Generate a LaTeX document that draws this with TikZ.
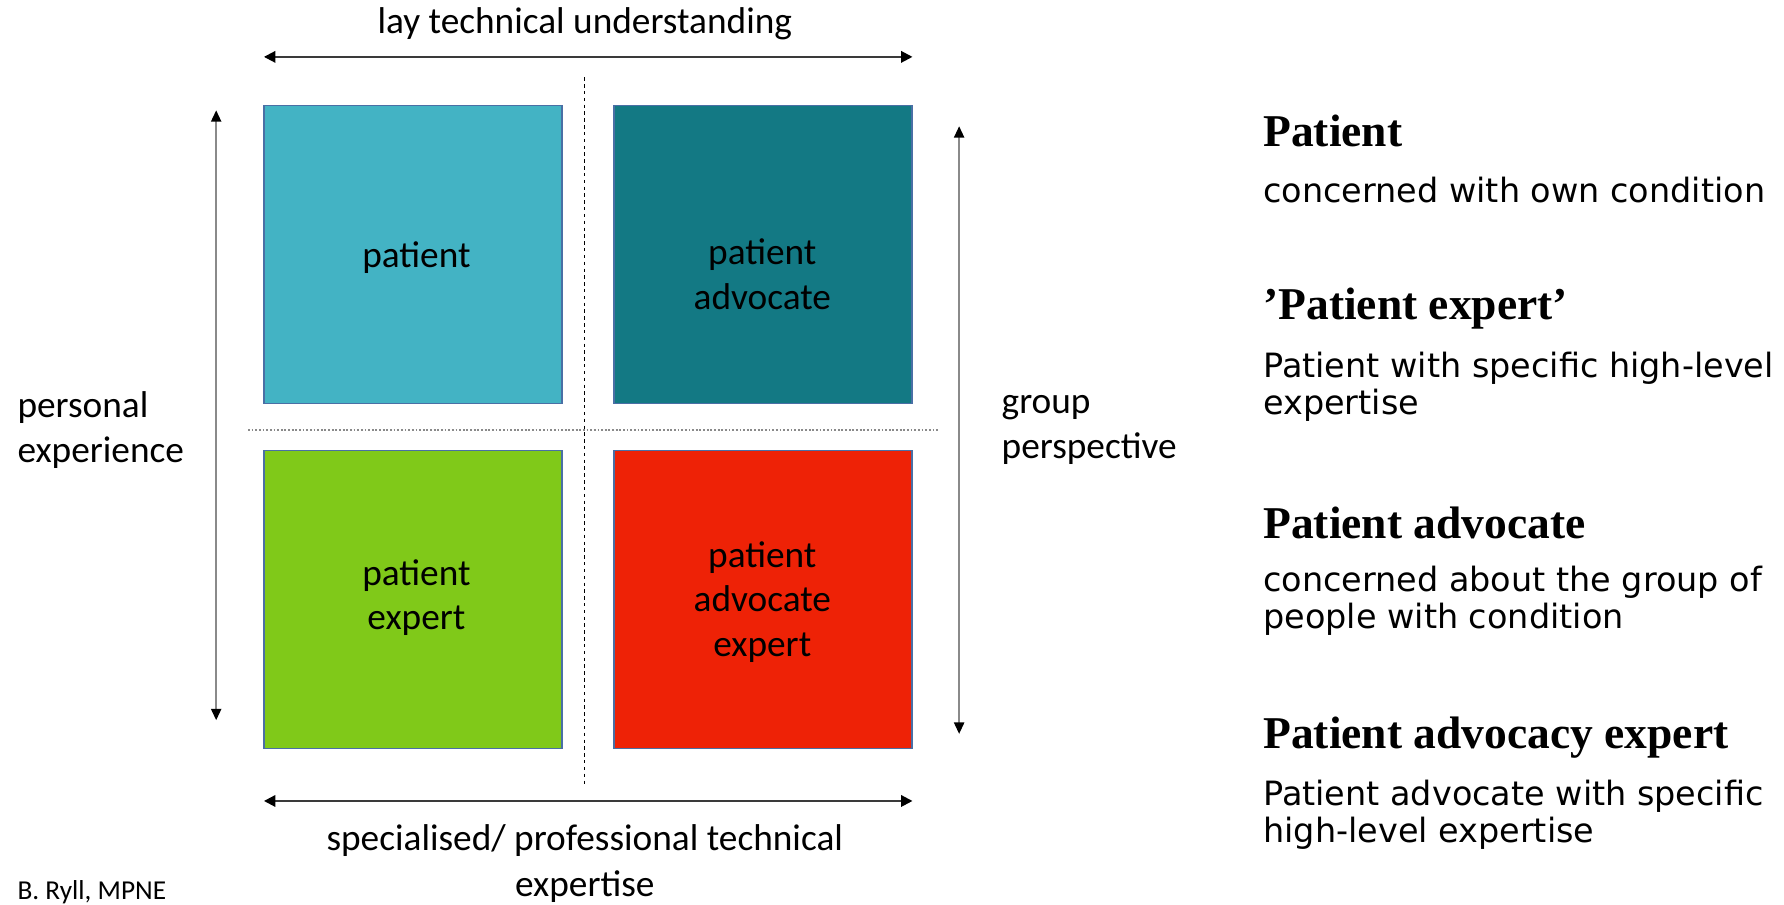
\documentclass[tikz,border=0pt]{standalone}
\usepackage{fontspec}
\setmainfont{Carlito}
\newfontfamily\descfont{DejaVu Sans}
\newfontfamily\headfont{Liberation Serif}
\usepackage{tikz}
\usetikzlibrary{positioning,arrows.meta}
\definecolor{patcol}{HTML}{43B3C4}
\definecolor{advcol}{HTML}{137984}
\definecolor{expcol}{HTML}{80C919}
\definecolor{aexcol}{HTML}{EE2206}
\definecolor{quadline}{HTML}{4A6FA5}
\definecolor{axisgray}{HTML}{8A8A8A}
\definecolor{axisdark}{HTML}{3A3A3A}

\begin{document}
\begin{tikzpicture}[x=0.5pt,y=-0.5pt,font=\fontsize{16.4}{19.5}\selectfont]
            \tikzstyle{quad}=[draw=quadline,line width=0.6pt,minimum width=131pt,minimum height=131pt,inner sep=0pt]
            \tikzstyle{quad text}=[align=center,inner sep=0pt,text=black]
            \tikzstyle{side text}=[align=left,anchor=west,inner sep=0pt,font=\fontsize{16.4}{20}\selectfont]
            \tikzstyle{head}=[anchor=west,inner sep=0pt,font=\fontsize{20}{24}\headfont\bfseries]
            \tikzstyle{desc}=[anchor=west,align=left,inner sep=0pt,font=\fontsize{14.7}{16.5}\descfont]
            \tikzstyle{wide axis}=[draw=axisdark,line width=0.9pt,{Triangle[length=5pt,width=5pt,color=black]}-{Triangle[length=5pt,width=5pt,color=black]}]
            \tikzstyle{tall axis}=[draw=axisgray,line width=0.7pt,{Triangle[length=5pt,width=4.5pt,color=black]}-{Triangle[length=5pt,width=4.5pt,color=black]}]
            \useasboundingbox (0,0) rectangle (1568,795);
            % four quadrants
            \node(p)[quad,fill=patcol] at (363,223.5) {};
            \node(pa)[quad,fill=advcol] at (670.5,223.5) {};
            \node(pe)[quad,fill=expcol] at (363,527) {};
            \node(pae)[quad,fill=aexcol] at (670.5,527) {};
            \node(pt)[quad text] at (366,226) {patient};
            \node(pat)[quad text] at (670,241) {patient\\advocate};
            \node(pet)[quad text] at (366,525) {patient\\expert};
            \node(paet)[quad text] at (670,529) {patient\\advocate\\expert};
            % dividers
            \coordinate(vt) at (514,68);
            \coordinate(vb) at (514,690);
            \coordinate(hl) at (218,378);
            \coordinate(hr) at (825,378);
            \draw[line width=0.5pt,dash pattern=on 1.5pt off 1.5pt] (vt) -- (vb);
            \draw[axisgray,line width=0.8pt,dash pattern=on 0.8pt off 0.8pt] (hl) -- (hr);
            % axes
            \coordinate(tl) at (232,50);
            \coordinate(tr) at (802,50);
            \coordinate(bl) at (232,704);
            \coordinate(br) at (802,704);
            \coordinate(lt) at (190,97);
            \coordinate(lb) at (190,633);
            \coordinate(rt) at (843,111);
            \coordinate(rb) at (843,645);
            \draw[wide axis] (tl) -- (tr);
            \draw[wide axis] (bl) -- (br);
            \draw[tall axis] (lt) -- (lb);
            \draw[tall axis] (rt) -- (rb);
            \node(lay)[inner sep=0pt] at (514,21) {lay technical understanding};
            \node(spec)[align=center,inner sep=0pt,font=\fontsize{16.4}{20}\selectfont] at (514,759) {specialised/ professional technical\\expertise};
            \node(pers)[side text] at (15,378) {personal\\experience};
            \node(grp)[side text] at (880,378) {group\\perspective};
            \node(src)[anchor=west,inner sep=0pt,font=\fontsize{12}{14}\selectfont] at (15,784) {B. Ryll, MPNE};
            % legend
            \node(h1)[head] at (1110,115) {Patient};
            \node(d1)[desc] at (1110,167) {concerned with own condition};
            \node(h2)[head] at (1110,271) {’Patient expert’};
            \node(d2)[desc] at (1110,340) {Patient with specific high-level\\expertise};
            \node(h3)[head] at (1110,460) {Patient advocate};
            \node(d3)[desc] at (1110,528) {concerned about the group of\\people with condition};
            \node(h4)[head] at (1110,648) {Patient advocacy expert};
            \node(d4)[desc] at (1110,716) {Patient advocate with specific\\high-level expertise};
          \end{tikzpicture}
\end{document}
